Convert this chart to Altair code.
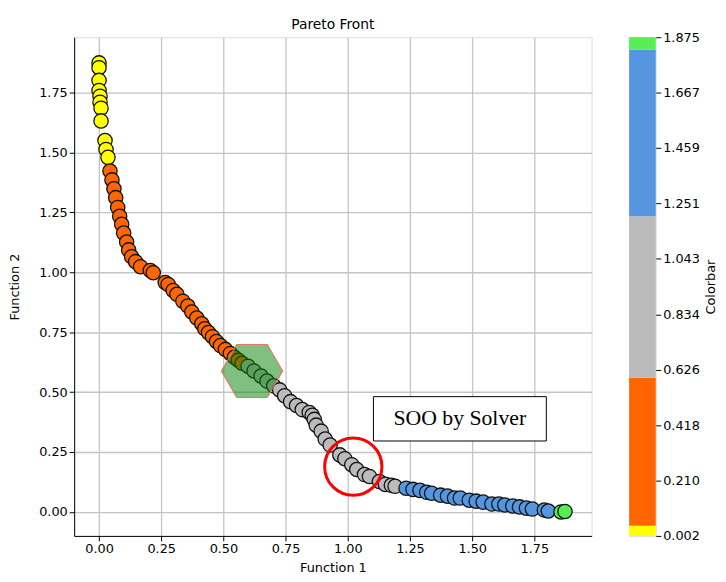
import altair as alt
import pandas as pd

# ---- Pareto front points (Function 1, Function 2) ----
f1 = [0.000, 0.000, 0.000, 0.000, 0.004, 0.004, 0.008, 0.008, 0.024, 0.028, 0.036,
      0.044, 0.052, 0.060, 0.067, 0.075, 0.083, 0.091, 0.099, 0.111, 0.119, 0.131,
      0.147, 0.167, 0.206, 0.218, 0.266, 0.278, 0.298, 0.313, 0.337, 0.357, 0.373,
      0.393, 0.413, 0.425, 0.440, 0.456, 0.472, 0.488, 0.508, 0.528, 0.544, 0.560,
      0.575,
      0.599, 0.623, 0.651, 0.675, 0.702, 0.726, 0.746, 0.770, 0.794, 0.817, 0.845,
      0.857, 0.865, 0.873, 0.893, 0.909, 0.929, 0.968, 0.988, 1.016, 1.036, 1.067,
      1.087, 1.127, 1.151, 1.175, 1.190,
      1.234, 1.262, 1.290, 1.317, 1.337, 1.373, 1.401, 1.429, 1.452, 1.488, 1.516,
      1.544, 1.579, 1.607, 1.631, 1.663, 1.690, 1.718, 1.742, 1.790, 1.806,
      1.857, 1.873]
f2 = [1.873, 1.853, 1.800, 1.758, 1.734, 1.709, 1.684, 1.631, 1.549, 1.512, 1.479,
      1.422, 1.385, 1.348, 1.311, 1.270, 1.233, 1.200, 1.163, 1.126, 1.093, 1.064,
      1.044, 1.023, 1.007, 0.998, 0.957, 0.949, 0.924, 0.908, 0.879, 0.859, 0.834,
      0.809, 0.785, 0.764, 0.748, 0.731, 0.711, 0.694, 0.678, 0.661, 0.645, 0.633,
      0.620,
      0.608, 0.588, 0.567, 0.546, 0.526, 0.509, 0.485, 0.460, 0.444, 0.427, 0.415,
      0.403, 0.386, 0.362, 0.337, 0.304, 0.279, 0.238, 0.222, 0.197, 0.177, 0.156,
      0.148, 0.127, 0.115, 0.111, 0.107,
      0.099, 0.094, 0.090, 0.082, 0.078, 0.070, 0.066, 0.058, 0.058, 0.049, 0.045,
      0.041, 0.033, 0.033, 0.029, 0.025, 0.021, 0.016, 0.012, 0.008, 0.004,
      0.000, 0.002]

# ---- colour classes (by Function 1) ----
thresholds = [0.04, 0.596, 1.203, 1.829]
palette = ["#ffff00", "#ff6600", "#bbbbbb", "#5596e0", "#55ee55"]

# ---- colorbar ----
cbar_lo = [0.002, 0.04, 0.596, 1.203, 1.829]
cbar_hi = [0.04, 0.596, 1.203, 1.829, 1.875]
cbar_ticks = [0.002, 0.210, 0.418, 0.626, 0.834, 1.043, 1.251, 1.459, 1.667, 1.875]

x_ticks = [0.0, 0.25, 0.5, 0.75, 1.0, 1.25, 1.5, 1.75]
y_ticks = [0.0, 0.25, 0.5, 0.75, 1.0, 1.25, 1.5, 1.75]

# ---- annotations (data coordinates) ----
hex_f1, hex_f2 = [0.615], [0.588]
circ_f1, circ_f2 = [1.022], [0.189]
box_x1, box_x2, box_y1, box_y2 = [1.103], [1.798], [0.296], [0.481]
label_f1, label_f2, label_text = [1.450], [0.390], ["SOO by Solver"]

df = pd.DataFrame({"f1": f1, "f2": f2, "idx": list(range(len(f1)))})
hex_df = pd.DataFrame({"f1": hex_f1, "f2": hex_f2})
circ_df = pd.DataFrame({"f1": circ_f1, "f2": circ_f2})
box_df = pd.DataFrame({"x1": box_x1, "x2": box_x2, "y1": box_y1, "y2": box_y2})
lab_df = pd.DataFrame({"f1": label_f1, "f2": label_f2, "t": label_text})
cb_df = pd.DataFrame({"lo": cbar_lo, "hi": cbar_hi, "c": palette})

W, H = 524, 505

xscale = alt.Scale(domain=[-0.1, 1.98], nice=False, zero=False)
yscale = alt.Scale(domain=[-0.1, 1.98], nice=False, zero=False)

axis_common = dict(labelFont="DejaVu Sans", labelFontSize=13, labelColor="black",
                   tickColor="black", tickSize=5, domainColor="black",
                   gridColor="#c4c4c4", gridWidth=1.3,
                   titleFont="DejaVu Sans", titleFontSize=13,
                   titleFontWeight="normal", titleColor="black")

pts = alt.Chart(df).mark_circle(size=210, opacity=1, stroke="#111111",
                                strokeWidth=1.3).encode(
    x=alt.X("f1:Q", scale=xscale,
            axis=alt.Axis(values=x_ticks, format=".2f", title="Function 1",
                          titlePadding=6, **axis_common)),
    y=alt.Y("f2:Q", scale=yscale,
            axis=alt.Axis(values=y_ticks, format=".2f", title="Function 2",
                          titlePadding=17, **axis_common)),
    fill=alt.Fill("f1:Q", scale=alt.Scale(type="threshold", domain=thresholds,
                                          range=palette), legend=None),
    order=alt.Order("idx:Q"),
)

hex_path = "M-1,0L-0.5,-0.866L0.5,-0.866L1,0L0.5,0.866L-0.5,0.866Z"
hexagon = alt.Chart(hex_df).mark_point(
    shape=hex_path, filled=True, fill="green", fillOpacity=0.5, opacity=1,
    stroke="#e8705f", strokeOpacity=0.9, strokeWidth=1.2, size=3844).encode(
    x=alt.X("f1:Q", scale=xscale), y=alt.Y("f2:Q", scale=yscale))

circle = alt.Chart(circ_df).mark_point(
    shape="circle", filled=False, stroke="red", strokeWidth=3, opacity=1,
    size=3364).encode(
    x=alt.X("f1:Q", scale=xscale), y=alt.Y("f2:Q", scale=yscale))

box = alt.Chart(box_df).mark_rect(fill="white", stroke="black",
                                  strokeWidth=1).encode(
    x=alt.X("x1:Q", scale=xscale), x2="x2:Q",
    y=alt.Y("y1:Q", scale=yscale), y2="y2:Q")

label = alt.Chart(lab_df).mark_text(font="Liberation Serif", fontSize=22,
                                    color="black").encode(
    x=alt.X("f1:Q", scale=xscale), y=alt.Y("f2:Q", scale=yscale), text="t:N")

main = alt.layer(pts, hexagon, circle, box, label).properties(
    width=W, height=H,
    title=alt.Title("Pareto Front", font="DejaVu Sans", fontSize=14,
                    fontWeight="normal", color="black", offset=5))

cb = alt.Chart(cb_df).mark_rect().encode(
    x=alt.value(0), x2=alt.value(27),
    y=alt.Y("lo:Q", scale=alt.Scale(domain=[0.002, 1.875], nice=False, zero=False),
            axis=alt.Axis(orient="right", values=cbar_ticks, format=".3f",
                          title="Colorbar", titleAngle=270, titleBaseline="top",
                          titlePadding=5,
                          grid=False, domain=False, labelFont="DejaVu Sans",
                          labelFontSize=13, labelColor="black", tickColor="black",
                          tickSize=5, labelPadding=2, titleFont="DejaVu Sans",
                          titleFontSize=13,
                          titleFontWeight="normal", titleColor="black")),
    y2="hi:Q",
    fill=alt.Fill("c:N", scale=None),
).properties(width=27, height=H,
             title=alt.Title(" ", font="DejaVu Sans", fontSize=14, offset=5))

chart = alt.hconcat(main, cb, spacing=36).properties(
    padding={"left": 0, "top": 0, "right": 0, "bottom": 0}
).configure_view(stroke="black", strokeWidth=1).configure(background="white")

chart.save("out.html", embed_options={"renderer": "svg", "actions": False})
